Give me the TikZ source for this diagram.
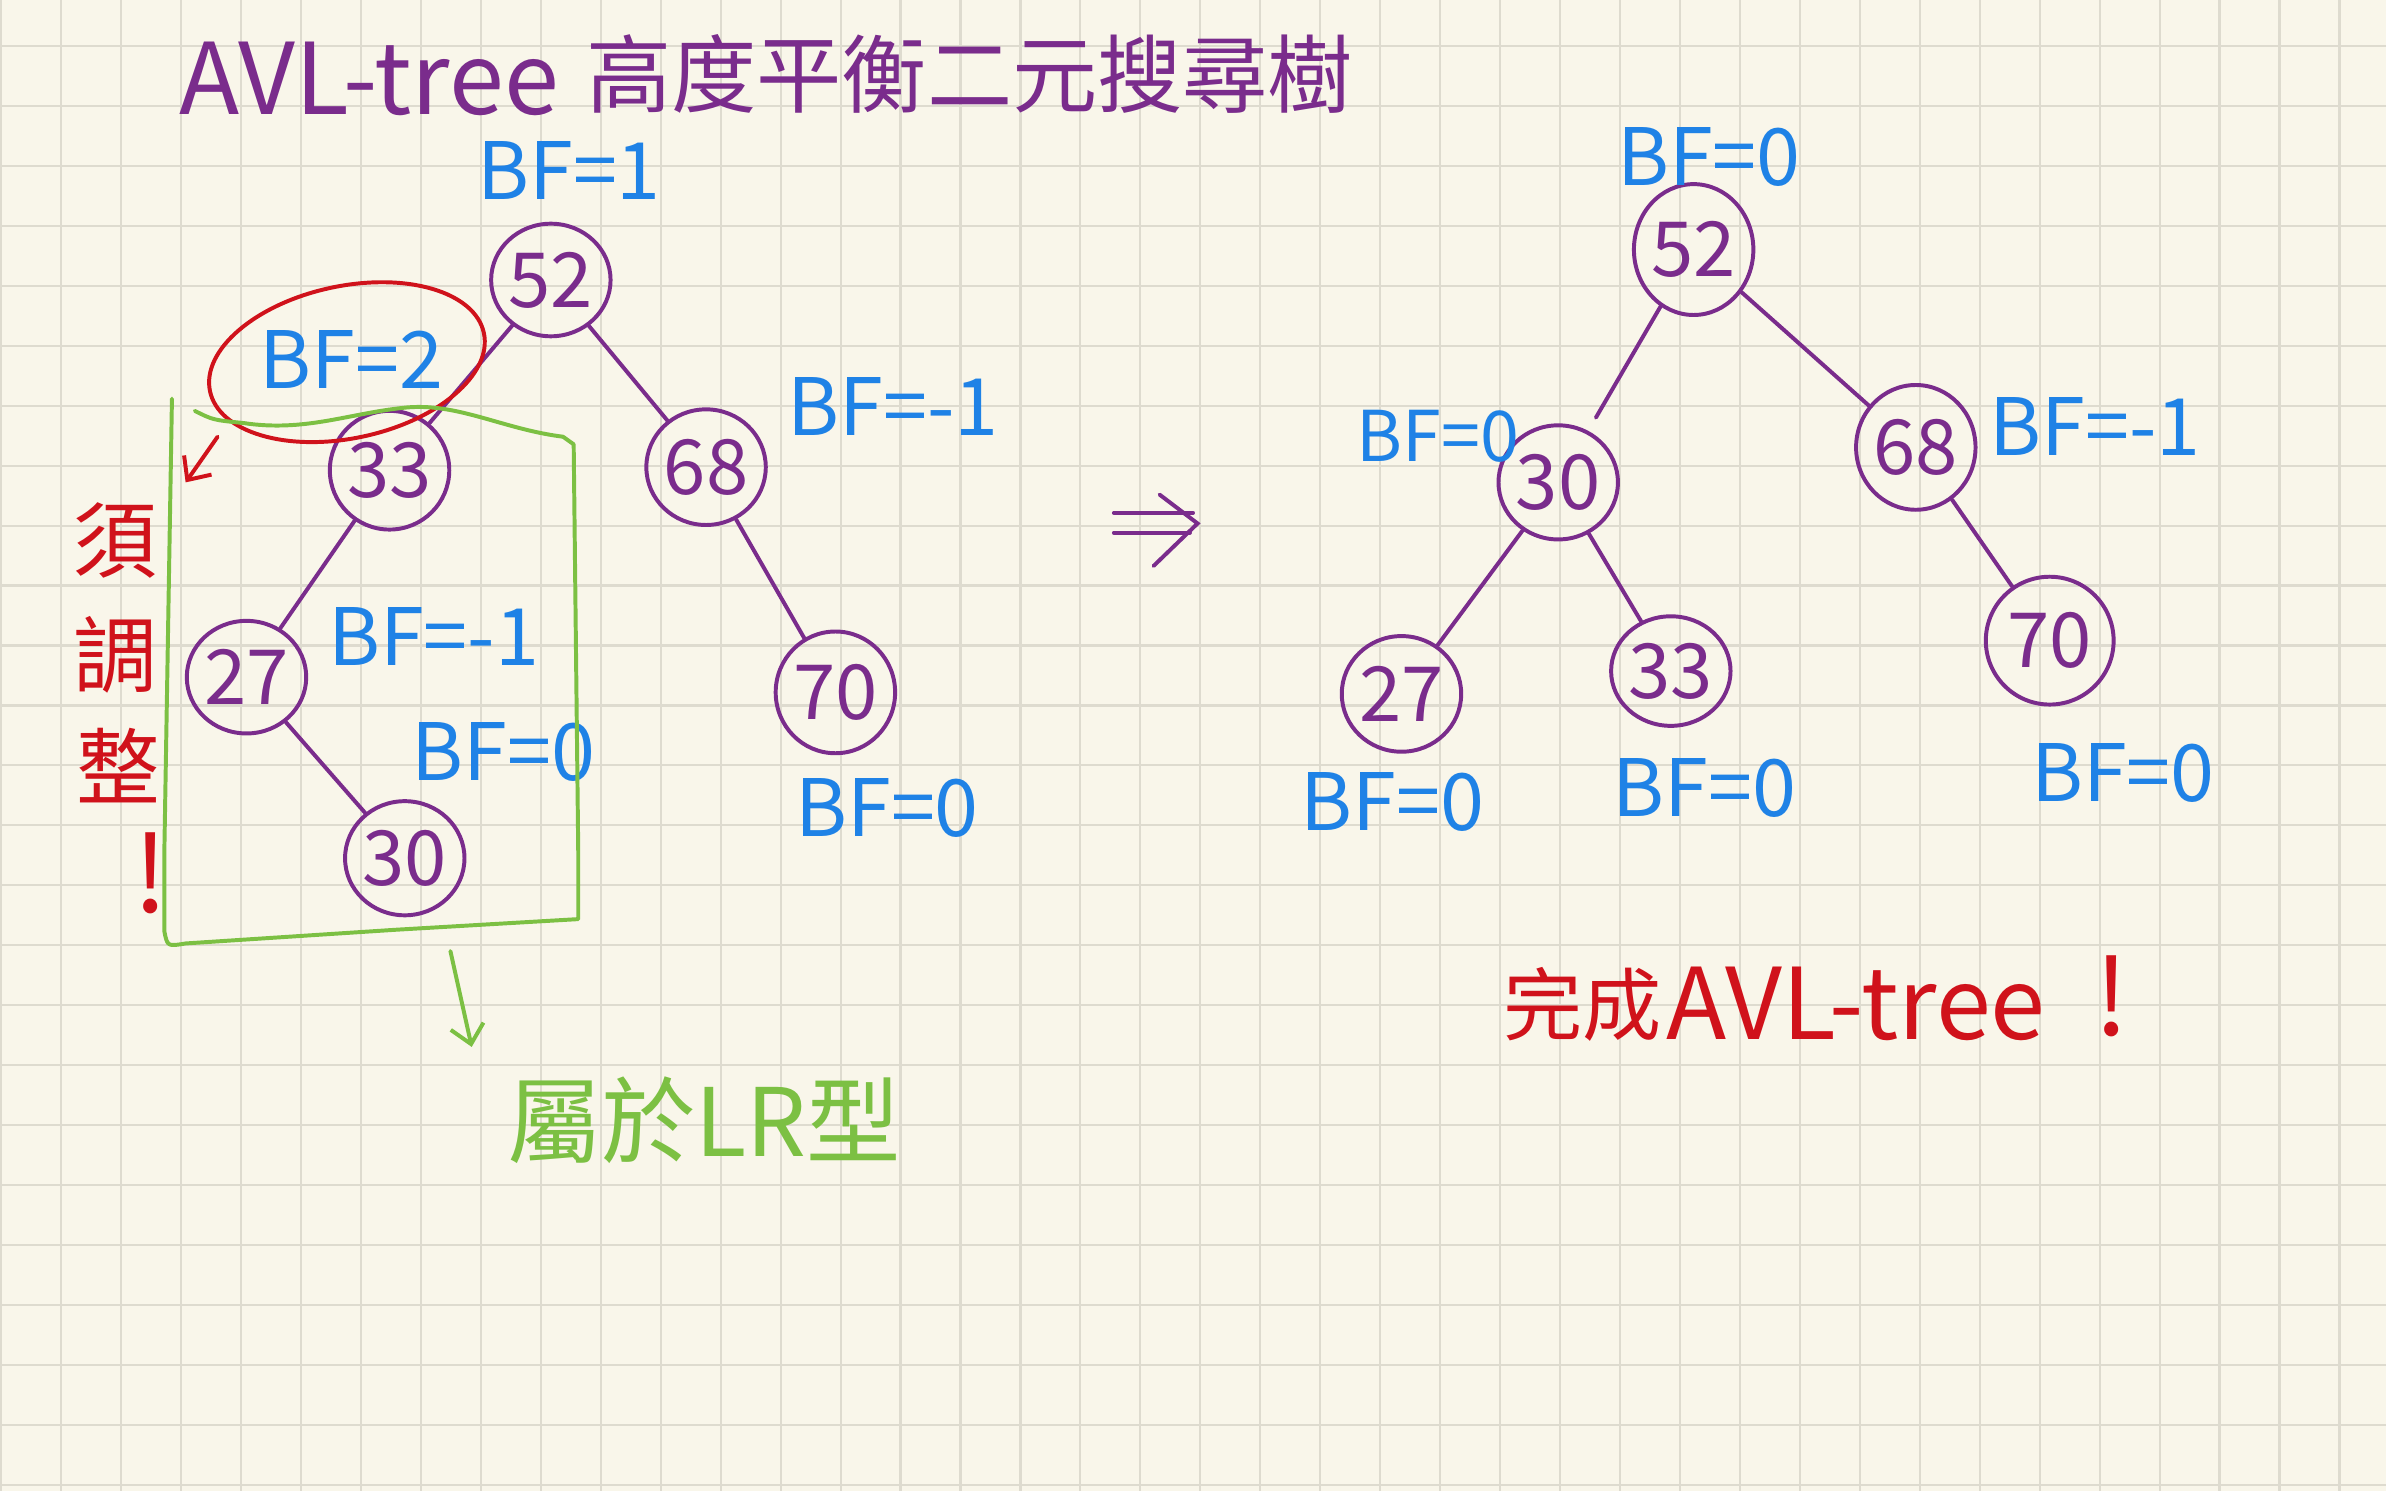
\documentclass[tikz,border=0pt]{standalone}
\usepackage{fontspec}
\setmainfont{Noto Sans CJK TC}
\usetikzlibrary{shapes.geometric,arrows.meta}
\definecolor{paper}{HTML}{F9F6EA}
\definecolor{gridc}{HTML}{DEDBCF}
\definecolor{ink}{HTML}{7A2C8C}
\definecolor{bfblue}{HTML}{1F82E6}
\definecolor{inkred}{HTML}{D0121B}
\definecolor{inkgreen}{HTML}{7CC043}
\begin{document}
\begin{tikzpicture}[x=1pt,y=-1pt,
  tnode/.style={ellipse, draw=ink, line width=2.6pt, inner sep=0pt, text=ink,
    font=\fontsize{50}{50}\selectfont},
  link/.style={draw=ink, line width=2.6pt, line cap=round},
  bf/.style={text=bfblue, inner sep=0pt, font=\fontsize{52}{52}\selectfont},
  redtxt/.style={text=inkred, inner sep=0pt},
  greentxt/.style={text=inkgreen, inner sep=0pt},
  redline/.style={draw=inkred, line width=2.6pt, line cap=round, line join=round},
  greenline/.style={draw=inkgreen, line width=2.6pt, line cap=round, line join=round},
  barb/.style={-{Straight Barb[length=12pt,width=22pt,line width=2.6pt]}}
]
\useasboundingbox (0,0) rectangle (1568,980);
\fill[paper] (0,0) rectangle (1568,980);
\foreach \k in {0,...,39} \draw[gridc, line width=1.4pt] ({0.8+39.4*\k},0) -- ({0.8+39.4*\k},980);
\foreach \k in {0,...,24} \draw[gridc, line width=1.4pt] (0,{30.2+39.4*\k}) -- (1568,{30.2+39.4*\k});

% title
\node[text=ink, inner sep=0pt, anchor=base west, font=\fontsize{65}{65}\selectfont] (t1) at (118,75) {AVL-tree};
\node[text=ink, inner sep=0pt, anchor=base west, font=\fontsize{56}{56}\selectfont] (t2) at (385,70) {高度平衡二元搜尋樹};

% left tree
\node[tnode, minimum width=74pt, minimum height=74pt] (L52) at (362,184) {52};
\node[tnode, minimum width=76pt, minimum height=78pt] (L33) at (256,309) {33};
\node[tnode, minimum width=76pt, minimum height=76pt] (L68) at (464,307) {68};
\node[tnode, minimum width=76pt, minimum height=74pt] (L27) at (162,445) {27};
\node[tnode, minimum width=75pt, minimum height=80pt] (L70) at (549,455) {70};
\node[tnode, minimum width=76pt, minimum height=75pt] (L30) at (266,564) {30};
\draw[link] (L52) -- (L33);
\draw[link] (L52) -- (L68);
\draw[link] (L33) -- (L27);
\draw[link] (L27) -- (L30);
\draw[link] (L68) -- (L70);

\node[bf] (lb52) at (374,112) {BF=1};
\node[bf] (lb33) at (231,236) {BF=2};
\node[bf] (lb68) at (587,267) {BF=-1};
\node[bf] (lb27) at (285,418) {BF=-1};
\node[bf] (lb30) at (331,494) {BF=0};
\node[bf] (lb70) at (583,531) {BF=0};

% red marking
\draw[redline] (228,238) ellipse [x radius=92, y radius=50, rotate=12];
\coordinate (ra1) at (143,287);
\coordinate (ra2) at (122,317);
\draw[redline, barb] (ra1) -- (ra2);
\node[redtxt, font=\fontsize{55}{55}\selectfont] (r1) at (76,355) {須};
\node[redtxt, font=\fontsize{55}{55}\selectfont] (r2) at (76,430) {調};
\node[redtxt, font=\fontsize{55}{55}\selectfont] (r3) at (78,503) {整};
\node[redtxt, font=\fontsize{70}{70}\selectfont] (r4) at (99,574) {!};

% green box
\draw[greenline] (113,262) -- (108,560) -- (108,612) .. controls (110,622) .. (122,620)
  -- (260,611) -- (380,604) -- (380,560) -- (377,292) -- (370,287)
  .. controls (330,282) and (300,264) .. (265,268)
  .. controls (228,272) and (200,284) .. (160,278)
  .. controls (140,276) .. (128,270);
\coordinate (ga1) at (296,625);
\coordinate (ga2) at (310,688);
\draw[greenline, barb] (ga1) -- (ga2);
\node[greentxt, anchor=base west, font=\fontsize{62}{62}\selectfont] (g1) at (333,760) {屬於LR型};

% middle arrow
\draw[link] (732,337) -- (784,337);
\draw[link] (732,350) -- (782,350);
\draw[link] (762,325) -- (787,344) -- (758,372);

% right tree
\node[tnode, minimum width=77pt, minimum height=86pt] (R52) at (1113,164) {52};
\node[tnode, minimum width=76pt, minimum height=75pt] (R30) at (1024,317) {30};
\node[tnode, minimum width=72pt, minimum height=82pt] (R68) at (1259,294) {68};
\node[tnode, minimum width=68pt, minimum height=76pt] (R27) at (921,456) {27};
\node[tnode, minimum width=64pt, minimum height=72pt] (R33) at (1098,441) {33};
\node[tnode, minimum width=84pt, minimum height=84pt] (R70) at (1347,421) {70};
\draw[link, shorten >=10pt] (R52) -- (R30);
\draw[link] (R52) -- (R68);
\draw[link] (R30) -- (R27);
\draw[link] (R30) -- (R33);
\draw[link] (R68) -- (R70);

\node[bf] (rb52) at (1123,103) {BF=0};
\node[bf, font=\fontsize{46}{46}\selectfont] (rb30) at (945,287) {BF=0};
\node[bf] (rb68) at (1377,280) {BF=-1};
\node[bf] (rb27) at (915,527) {BF=0};
\node[bf] (rb33) at (1120,518) {BF=0};
\node[bf] (rb70) at (1395,508) {BF=0};

% done text
\node[redtxt, anchor=base west, font=\fontsize{52}{52}\selectfont] (d1) at (988,680) {完成};
\node[redtxt, anchor=base west, font=\fontsize{65}{65}\selectfont] (d2) at (1095,683) {AVL-tree};
\node[redtxt, font=\fontsize{70}{70}\selectfont] (d3) at (1388,655) {!};
\end{tikzpicture}
\end{document}
